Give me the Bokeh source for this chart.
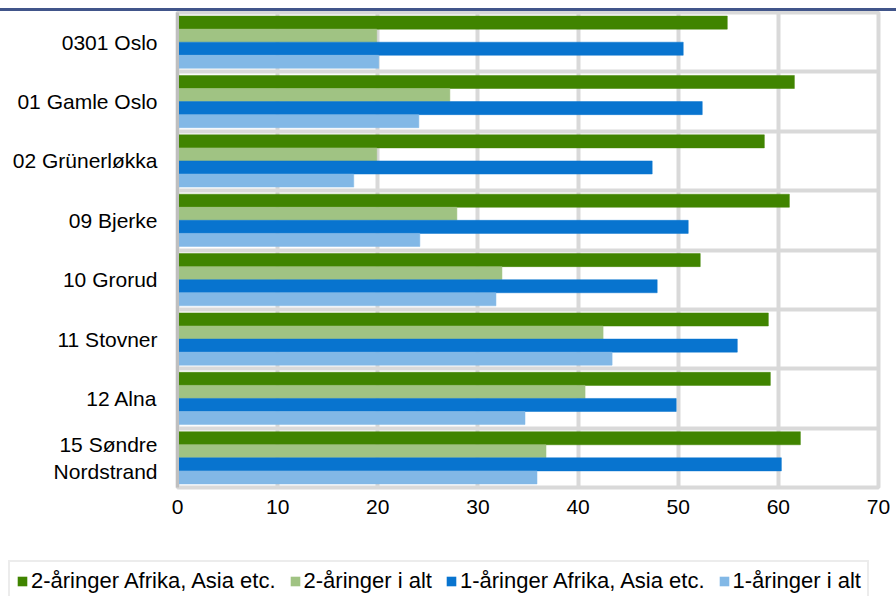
import numpy as np
from bokeh.plotting import figure
from bokeh.models import Range1d, FixedTicker, Legend, LegendItem, Div
from bokeh.embed import file_html
from bokeh.resources import INLINE

# ---- data ----
categories = ["0301 Oslo", "01 Gamle Oslo", "02 Grünerløkka", "09 Bjerke",
              "10 Grorud", "11 Stovner", "12 Alna", "15 Søndre\nNordstrand"]
series_names = ["2-åringer Afrika, Asia etc.", "2-åringer i alt",
                "1-åringer Afrika, Asia etc.", "1-åringer i alt"]
two_afr = [54.9, 61.6, 58.6, 61.1, 52.2, 59.0, 59.2, 62.2]
two_all = [19.9, 27.2, 19.9, 27.9, 32.4, 42.5, 40.7, 36.8]
one_afr = [50.5, 52.4, 47.4, 51.0, 47.9, 55.9, 49.8, 60.3]
one_all = [20.1, 24.1, 17.6, 24.2, 31.8, 43.4, 34.7, 35.9]
x_ticks = [0, 10, 20, 30, 40, 50, 60, 70]

# ---- style ----
colors = ["#408400", "#a0c383", "#0874cf", "#82b8e6"]
offsets = [-0.33, -0.11, 0.11, 0.33]
FONT = "Liberation Sans"
n = len(categories)

p = figure(width=896, height=541, output_backend="svg", toolbar_location=None,
           x_range=Range1d(0, 70), y_range=Range1d(n, 0),
           min_border_left=177, min_border_right=18, min_border_top=1,
           min_border_bottom=65)
p.outline_line_color = "#d9d9d9"
p.outline_line_width = 4
p.background_fill_color = "white"
p.border_fill_color = "white"

series = [two_afr, two_all, one_afr, one_all]
centers = np.arange(n) + 0.5
for k, vals in enumerate(series):
    p.hbar(y=centers + offsets[k], left=0, right=vals, height=0.22,
           fill_color=colors[k], line_color=colors[k], line_width=0.5)

# axes
p.xaxis.ticker = FixedTicker(ticks=x_ticks)
p.xaxis.axis_line_color = None
p.xaxis.major_tick_line_color = None
p.xaxis.major_tick_out = 0
p.xaxis.major_tick_in = 0
p.xaxis.minor_tick_line_color = None
p.xaxis.major_label_standoff = 12
p.xaxis.major_label_text_font = FONT
p.xaxis.major_label_text_font_size = "21px"
p.xaxis.major_label_text_color = "black"

p.yaxis.ticker = FixedTicker(ticks=list(centers))
p.yaxis.major_label_overrides = {float(c): lab for c, lab in zip(centers, categories)}
p.yaxis.axis_line_color = "#bfbfbf"
p.yaxis.axis_line_width = 3
p.yaxis.major_tick_line_color = None
p.yaxis.major_tick_out = 0
p.yaxis.major_tick_in = 0
p.yaxis.minor_tick_line_color = None
p.yaxis.major_label_standoff = 20
p.yaxis.major_label_text_font = FONT
p.yaxis.major_label_text_font_size = "21px"
p.yaxis.major_label_text_color = "black"
p.yaxis.major_label_text_align = "right"

# grids
p.xgrid.ticker = FixedTicker(ticks=x_ticks[1:-1])
p.xgrid.grid_line_color = "#d9d9d9"
p.xgrid.grid_line_width = 4
p.ygrid.ticker = FixedTicker(ticks=list(range(1, n)))
p.ygrid.grid_line_color = "#d9d9d9"
p.ygrid.grid_line_width = 4

# ---- legend strip (separate root figure; swatches from zero-length bars) ----
lf = figure(width=896, height=44, output_backend="svg", toolbar_location=None,
            x_range=Range1d(0, 1), y_range=Range1d(0, 1),
            x_axis_type=None, y_axis_type=None, min_border=0)
lf.outline_line_color = None
lf.grid.visible = False
lf.border_fill_color = "white"
items = []
for name, c in zip(series_names, colors):
    r = lf.hbar(y=[0.5], left=[0], right=[0], height=0.5,
                fill_color=c, line_color=c, line_alpha=0)
    items.append(LegendItem(label=name, renderers=[r]))

legend = Legend(items=items, orientation="horizontal", location="top_left")
legend.label_text_font = FONT
legend.label_text_font_size = "22px"
legend.label_text_color = "black"
legend.glyph_width = 12
legend.glyph_height = 12
legend.label_standoff = 3
legend.spacing = 13
legend.padding = 6
legend.margin = 8
legend.border_line_color = "#d9d9d9"
legend.border_line_width = 2
legend.background_fill_color = "white"
legend.background_fill_alpha = 1
lf.add_layout(legend, "center")

top_line = Div(text="", width=896, height=3, margin=(8, 0, 0, 0),
               styles={"background-color": "#41558a"})

open("out.html", "w").write(file_html([top_line, p, lf], INLINE))
